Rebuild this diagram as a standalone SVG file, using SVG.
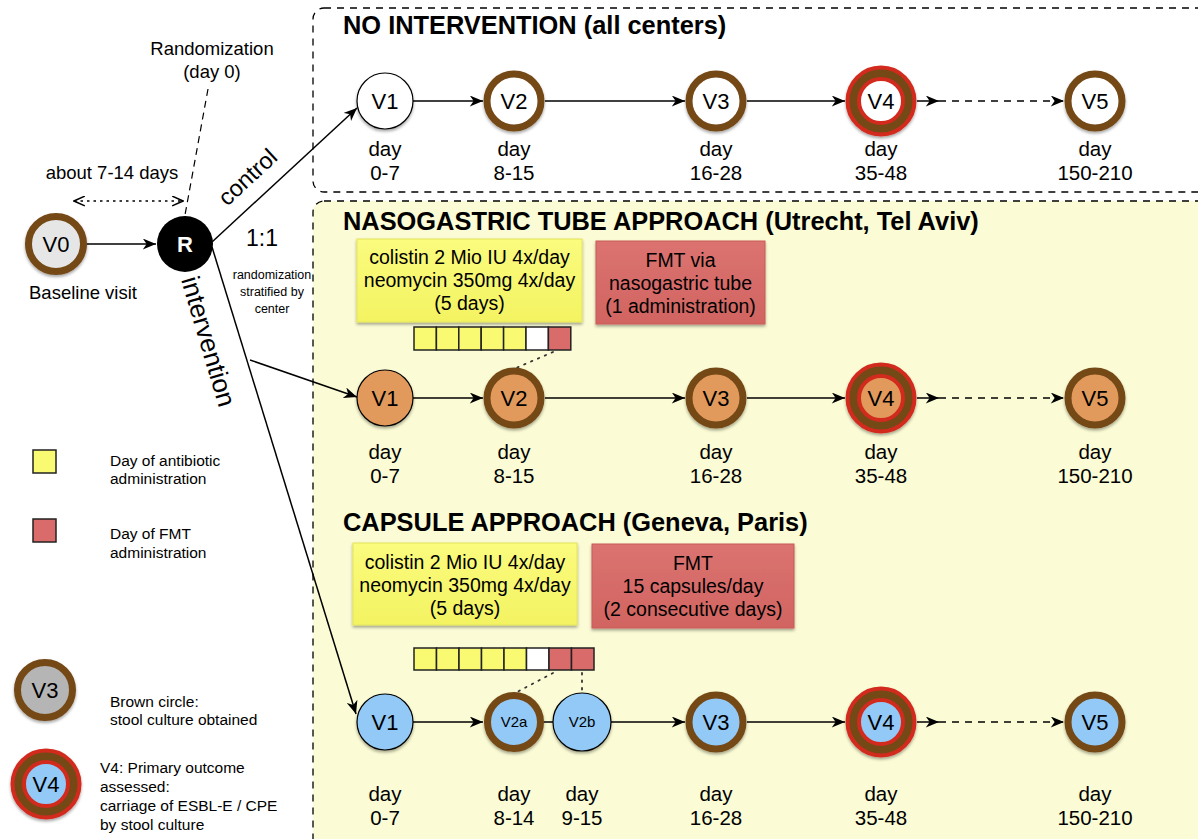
<svg xmlns="http://www.w3.org/2000/svg" width="1198" height="839" viewBox="0 0 1198 839">
<style>
text{font-family:"Liberation Sans",Arial,Helvetica,sans-serif;fill:#000}
.title{font-size:25.4px;font-weight:bold}
.vl{font-size:22px;text-anchor:middle}
.vs{font-size:15px;text-anchor:middle}
.day{font-size:20.5px;text-anchor:middle}
.bx{font-size:19.5px;text-anchor:middle}
.lg{font-size:15.5px}
.lab{font-size:18.5px;text-anchor:middle}
.plain{stroke:#000;stroke-width:1.2}
.ring{stroke:#744818;stroke-width:7}
.wh{fill:#fff}.or{fill:#E29A5B}.bl{fill:#92C9F7}
.con{stroke:#000;stroke-width:1.5;fill:none}
.dash{stroke-dasharray:7 6}
.cy{fill:#FAFA72;stroke:#222;stroke-width:1.5}
.cw{fill:#fff;stroke:#222;stroke-width:1.5}
.cr{fill:#D96B6A;stroke:#222;stroke-width:1.5}
.dot{stroke:#333;stroke-width:1.8;stroke-dasharray:1.5 6;stroke-linecap:round;fill:none}
</style>
<defs>
<marker id="ah" viewBox="0 0 12 10" refX="12" refY="5" markerWidth="14" markerHeight="11" orient="auto" markerUnits="userSpaceOnUse"><path d="M0,0 L12,5 L0,10 L3.5,5 z" fill="#000"/></marker>
<marker id="oa" viewBox="0 0 12 10" refX="11" refY="5" markerWidth="13" markerHeight="11" orient="auto-start-reverse" markerUnits="userSpaceOnUse"><path d="M1,0.5 L11,5 L1,9.5" fill="none" stroke="#000" stroke-width="1.4"/></marker>
<filter id="sh" x="-20%" y="-20%" width="140%" height="150%"><feDropShadow dx="0" dy="2" stdDeviation="1.5" flood-color="#000" flood-opacity="0.35"/></filter>
<linearGradient id="gy" x1="0" y1="0" x2="0" y2="1"><stop offset="0" stop-color="#FBFB7E"/><stop offset="1" stop-color="#F3F362"/></linearGradient>
<linearGradient id="gr" x1="0" y1="0" x2="0" y2="1"><stop offset="0" stop-color="#DB7370"/><stop offset="1" stop-color="#D16461"/></linearGradient>
<g id="v4ring"><circle r="33.5" fill="#744818" stroke="#D22B1F" stroke-width="4"/></g>
</defs>

<!-- regions -->
<g id="region-control">
<rect x="313" y="8" width="920" height="184" rx="11" fill="#fff" stroke="#000" stroke-width="1.3" stroke-dasharray="7 6"/>
<text class="title" x="343" y="34">NO INTERVENTION (all centers)</text>
</g>
<g id="region-intervention">
<rect x="313" y="201" width="920" height="680" rx="11" fill="#FBFCD5" stroke="#000" stroke-width="1.3" stroke-dasharray="7 6"/>
<text class="title" x="343" y="230">NASOGASTRIC TUBE APPROACH (Utrecht, Tel Aviv)</text>
<text class="title" x="343" y="531">CAPSULE APPROACH (Geneva, Paris)</text>
</g>

<!-- connectors -->
<g id="connectors">
<line class="con" x1="87" y1="244" x2="156" y2="244" marker-end="url(#ah)"/>
<line class="con" x1="74" y1="201" x2="183" y2="201" stroke-dasharray="2.5 4" marker-start="url(#oa)" marker-end="url(#oa)"/>
<line x1="208" y1="89" x2="185" y2="215" stroke="#000" stroke-width="1.2" stroke-dasharray="7 5"/>
<line class="con" x1="212" y1="242" x2="357" y2="108" marker-end="url(#ah)"/>
<line class="con" x1="212" y1="247" x2="356" y2="714" marker-end="url(#ah)"/>
<line class="con" x1="250" y1="360" x2="357" y2="397" marker-end="url(#ah)"/>
<!-- row 1 -->
<line class="con" x1="413" y1="101" x2="483" y2="101" marker-end="url(#ah)"/>
<line class="con" x1="545" y1="101" x2="685" y2="101" marker-end="url(#ah)"/>
<line class="con" x1="747" y1="101" x2="845" y2="101" marker-end="url(#ah)"/>
<line class="con" x1="917" y1="101" x2="939" y2="101" marker-end="url(#ah)"/>
<line class="con dash" x1="939" y1="101" x2="1064" y2="101" marker-end="url(#ah)"/>
<!-- row 2 -->
<line class="con" x1="413" y1="398" x2="483" y2="398" marker-end="url(#ah)"/>
<line class="con" x1="545" y1="398" x2="685" y2="398" marker-end="url(#ah)"/>
<line class="con" x1="747" y1="398" x2="845" y2="398" marker-end="url(#ah)"/>
<line class="con" x1="917" y1="398" x2="939" y2="398" marker-end="url(#ah)"/>
<line class="con dash" x1="939" y1="398" x2="1064" y2="398" marker-end="url(#ah)"/>
<line class="dot" x1="553" y1="352" x2="516" y2="368"/>
<!-- row 3 -->
<line class="con" x1="413" y1="722" x2="483" y2="722" marker-end="url(#ah)"/>
<line class="con" x1="544" y1="722" x2="553" y2="722"/>
<line class="con" x1="611" y1="722" x2="685" y2="722" marker-end="url(#ah)"/>
<line class="con" x1="747" y1="722" x2="845" y2="722" marker-end="url(#ah)"/>
<line class="con" x1="917" y1="722" x2="939" y2="722" marker-end="url(#ah)"/>
<line class="con dash" x1="939" y1="722" x2="1064" y2="722" marker-end="url(#ah)"/>
<line class="dot" x1="553" y1="673" x2="517" y2="692"/>
<line class="dot" x1="582" y1="673" x2="582" y2="692"/>
</g>

<!-- left part -->
<g id="v0" filter="url(#sh)"><circle cx="56" cy="244" r="27.5" fill="#E6E6E6" class="ring"/></g>
<text class="vl" x="56" y="252">V0</text>
<text class="lab" x="83" y="299">Baseline visit</text>
<g id="r-node"><circle cx="185" cy="244" r="28" fill="#000"/><text x="185" y="252" font-size="22" font-weight="bold" text-anchor="middle" style="fill:#fff">R</text></g>
<text class="lab" x="112" y="179">about 7-14 days</text>
<text class="lab" x="212" y="55">Randomization</text>
<text class="lab" x="212" y="78">(day 0)</text>
<text x="0" y="0" font-size="23.5" text-anchor="middle" transform="translate(253,183) rotate(-43)">control</text>
<text x="0" y="0" font-size="26" text-anchor="middle" transform="translate(200,344) rotate(73.5)">intervention</text>
<text x="262" y="246" font-size="23" text-anchor="middle">1:1</text>
<g font-size="12.5" text-anchor="middle"><text x="272" y="279">randomization</text><text x="272" y="296">stratified by</text><text x="272" y="313">center</text></g>

<!-- row 1 nodes -->
<g id="r1-v1"><circle cx="385" cy="101" r="28" class="plain wh" filter="url(#sh)"/><text class="vl" x="385" y="109">V1</text></g>
<g id="r1-v2"><circle cx="514" cy="101" r="27" class="ring wh" filter="url(#sh)"/><text class="vl" x="514" y="109">V2</text></g>
<g id="r1-v3"><circle cx="716" cy="101" r="27" class="ring wh" filter="url(#sh)"/><text class="vl" x="716" y="109">V3</text></g>
<g id="r1-v4"><g filter="url(#sh)"><use href="#v4ring" x="881" y="101"/><circle cx="881" cy="101" r="22" fill="#fff" stroke="#D22B1F" stroke-width="4"/></g><text class="vl" x="881" y="109">V4</text></g>
<g id="r1-v5"><circle cx="1095" cy="101" r="27" class="ring wh" filter="url(#sh)"/><text class="vl" x="1095" y="109">V5</text></g>
<g id="r1-days">
<text class="day" x="385" y="156">day</text><text class="day" x="385" y="180">0-7</text>
<text class="day" x="514" y="156">day</text><text class="day" x="514" y="180">8-15</text>
<text class="day" x="716" y="156">day</text><text class="day" x="716" y="180">16-28</text>
<text class="day" x="881" y="156">day</text><text class="day" x="881" y="180">35-48</text>
<text class="day" x="1095" y="156">day</text><text class="day" x="1095" y="180">150-210</text>
</g>

<!-- row 2 -->
<g id="r2-abx"><rect x="357" y="239" width="225" height="83" fill="url(#gy)" stroke="#E4E45A" stroke-width="1" filter="url(#sh)"/>
<text class="bx" x="469.5" y="264">colistin 2 Mio IU 4x/day</text><text class="bx" x="469.5" y="287">neomycin 350mg 4x/day</text><text class="bx" x="469.5" y="310">(5 days)</text></g>
<g id="r2-fmt"><rect x="596" y="241" width="169" height="83" fill="url(#gr)" stroke="#C95B58" stroke-width="1" filter="url(#sh)"/>
<text class="bx" x="680.5" y="267">FMT via</text><text class="bx" x="680.5" y="290">nasogastric tube</text><text class="bx" x="680.5" y="313">(1 administration)</text></g>
<g id="r2-cells">
<rect class="cy" x="414" y="327" width="22.4" height="23"/><rect class="cy" x="436.4" y="327" width="22.4" height="23"/><rect class="cy" x="458.8" y="327" width="22.4" height="23"/><rect class="cy" x="481.2" y="327" width="22.4" height="23"/><rect class="cy" x="503.6" y="327" width="22.4" height="23"/><rect class="cw" x="526" y="327" width="22.4" height="23"/><rect class="cr" x="548.4" y="327" width="22.4" height="23"/>
</g>
<g id="r2-v1"><circle cx="385" cy="398" r="28" class="plain or" filter="url(#sh)"/><text class="vl" x="385" y="406">V1</text></g>
<g id="r2-v2"><circle cx="514" cy="398" r="27" class="ring or" filter="url(#sh)"/><text class="vl" x="514" y="406">V2</text></g>
<g id="r2-v3"><circle cx="716" cy="398" r="27" class="ring or" filter="url(#sh)"/><text class="vl" x="716" y="406">V3</text></g>
<g id="r2-v4"><g filter="url(#sh)"><use href="#v4ring" x="881" y="398"/><circle cx="881" cy="398" r="22" fill="#E29A5B" stroke="#D22B1F" stroke-width="4"/></g><text class="vl" x="881" y="406">V4</text></g>
<g id="r2-v5"><circle cx="1095" cy="398" r="27" class="ring or" filter="url(#sh)"/><text class="vl" x="1095" y="406">V5</text></g>
<g id="r2-days">
<text class="day" x="385" y="459">day</text><text class="day" x="385" y="483">0-7</text>
<text class="day" x="514" y="459">day</text><text class="day" x="514" y="483">8-15</text>
<text class="day" x="716" y="459">day</text><text class="day" x="716" y="483">16-28</text>
<text class="day" x="881" y="459">day</text><text class="day" x="881" y="483">35-48</text>
<text class="day" x="1095" y="459">day</text><text class="day" x="1095" y="483">150-210</text>
</g>

<!-- row 3 -->
<g id="r3-abx"><rect x="353" y="543" width="224" height="82" fill="url(#gy)" stroke="#E4E45A" stroke-width="1" filter="url(#sh)"/>
<text class="bx" x="465" y="569">colistin 2 Mio IU 4x/day</text><text class="bx" x="465" y="592">neomycin 350mg 4x/day</text><text class="bx" x="465" y="615">(5 days)</text></g>
<g id="r3-fmt"><rect x="592" y="544" width="202" height="84" fill="url(#gr)" stroke="#C95B58" stroke-width="1" filter="url(#sh)"/>
<text class="bx" x="693" y="570">FMT</text><text class="bx" x="693" y="593">15 capsules/day</text><text class="bx" x="693" y="616">(2 consecutive days)</text></g>
<g id="r3-cells">
<rect class="cy" x="414" y="648" width="22.5" height="22"/><rect class="cy" x="436.5" y="648" width="22.5" height="22"/><rect class="cy" x="459" y="648" width="22.5" height="22"/><rect class="cy" x="481.5" y="648" width="22.5" height="22"/><rect class="cy" x="504" y="648" width="22.5" height="22"/><rect class="cw" x="526.5" y="648" width="22.5" height="22"/><rect class="cr" x="549" y="648" width="22.5" height="22"/><rect class="cr" x="571.5" y="648" width="22.5" height="22"/>
</g>
<g id="r3-v1"><circle cx="385" cy="722" r="28" class="plain bl" filter="url(#sh)"/><text class="vl" x="385" y="730">V1</text></g>
<g id="r3-v2a"><circle cx="514" cy="722" r="26.5" class="ring bl" filter="url(#sh)"/><text class="vs" x="514" y="727">V2a</text></g>
<g id="r3-v2b"><circle cx="582" cy="722" r="29" class="plain bl" filter="url(#sh)"/><text class="vs" x="582" y="727">V2b</text></g>
<g id="r3-v3"><circle cx="716" cy="722" r="27" class="ring bl" filter="url(#sh)"/><text class="vl" x="716" y="730">V3</text></g>
<g id="r3-v4"><g filter="url(#sh)"><use href="#v4ring" x="881" y="722"/><circle cx="881" cy="722" r="22" fill="#92C9F7" stroke="#D22B1F" stroke-width="4"/></g><text class="vl" x="881" y="730">V4</text></g>
<g id="r3-v5"><circle cx="1095" cy="722" r="27" class="ring bl" filter="url(#sh)"/><text class="vl" x="1095" y="730">V5</text></g>
<g id="r3-days">
<text class="day" x="385" y="801">day</text><text class="day" x="385" y="825">0-7</text>
<text class="day" x="514" y="801">day</text><text class="day" x="514" y="825">8-14</text>
<text class="day" x="582" y="801">day</text><text class="day" x="582" y="825">9-15</text>
<text class="day" x="716" y="801">day</text><text class="day" x="716" y="825">16-28</text>
<text class="day" x="881" y="801">day</text><text class="day" x="881" y="825">35-48</text>
<text class="day" x="1095" y="801">day</text><text class="day" x="1095" y="825">150-210</text>
</g>

<!-- legend -->
<g id="legend-abx"><rect x="33" y="450" width="23" height="23" fill="#FAFA72" stroke="#222" stroke-width="1.5"/>
<text class="lg" x="110" y="466">Day of antibiotic</text><text class="lg" x="110" y="484">administration</text></g>
<g id="legend-fmt"><rect x="33" y="519" width="23" height="23" fill="#D96B6A" stroke="#222" stroke-width="1.5"/>
<text class="lg" x="110" y="539">Day of FMT</text><text class="lg" x="110" y="558">administration</text></g>
<g id="legend-v3"><circle cx="45" cy="690" r="27.5" fill="#B5B5B5" class="ring" filter="url(#sh)"/><text class="vl" x="45" y="698">V3</text>
<text class="lg" x="110" y="707">Brown circle:</text><text class="lg" x="110" y="725">stool culture obtained</text></g>
<g id="legend-v4"><g filter="url(#sh)"><use href="#v4ring" x="46" y="784"/><circle cx="46" cy="784" r="22" fill="#92C9F7" stroke="#D22B1F" stroke-width="4"/></g><text class="vl" x="46" y="792">V4</text>
<text class="lg" x="100" y="773">V4: Primary outcome</text><text class="lg" x="100" y="792">assessed:</text><text class="lg" x="100" y="811">carriage of ESBL-E / CPE</text><text class="lg" x="100" y="830">by stool culture</text></g>
</svg>
